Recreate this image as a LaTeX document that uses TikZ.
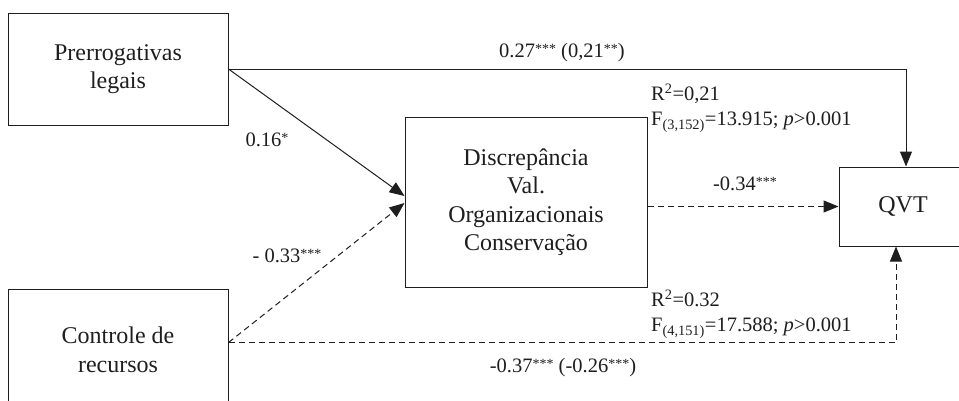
\documentclass[tikz,border=0pt]{standalone}
\usepackage{fontspec}
\setmainfont{Liberation Serif}
\usetikzlibrary{arrows.meta}
\definecolor{ink}{RGB}{30,30,30}
% significance stars, set small and level with the tops of the digits
\newcommand\sigstars[1]{\raisebox{4.2pt}{\fontsize{14}{14}\selectfont #1}}
\begin{document}
\begin{tikzpicture}[x=1pt,y=-1pt,
  varbox/.style={draw=ink,line width=1pt,align=center,text=ink,inner sep=0pt,
    font=\fontsize{24}{28.5}\selectfont},
  coef/.style={text=ink,inner sep=0pt,font=\fontsize{20.5}{25}\selectfont},
  stats/.style={coef,align=left,anchor=west},
  path/.style={draw=ink,line width=1pt,-{Triangle[length=15pt,width=12pt]}},
  neg/.style={path,dash pattern=on 6pt off 4pt}]
\useasboundingbox (0,0) rectangle (959,400);

% latent variables
\node[varbox,minimum width=220pt,minimum height=112pt] (P) at (118,69) {Prerrogativas\\legais};
\node[varbox,minimum width=220pt,minimum height=122pt] (C) at (118,350) {Controle de\\recursos};
\node[varbox,minimum width=242pt,minimum height=170pt] (D) at (526,202) {Discrepância\\Val.\\Organizacionais\\Conservação};
\node[varbox,minimum width=128pt,minimum height=79pt] (Q) at (903,206.5) {QVT};

% direct and mediated paths
\draw[path] (P.east) -| ([xshift=3pt]Q.north);
\draw[path] (P.east) -- ([yshift=6pt]D.west);
\draw[neg] ([yshift=7.5pt]C.east) -- ([yshift=-1pt]D.west);
\draw[neg] (Q.west -| D.east) -- (Q.west);
\draw[neg] ([yshift=7.5pt]C.east) -| ([xshift=-7pt]Q.south);

% path coefficients
\node[coef] (c1) at (562,53) {0.27\sigstars{***} (0,21\sigstars{**})};
\node[coef] (c2) at (267,140) {0.16\sigstars{*}};
\node[coef] (c3) at (287,256) {- 0.33\sigstars{***}};
\node[coef] (c4) at (745,184) {-0.34\sigstars{***}};
\node[coef] (c5) at (563,368) {-0.37\sigstars{***} (-0.26\sigstars{***})};

% model fit
\node[stats] (s1) at (651,108) {R\textsuperscript{2}=0,21\\F\textsubscript{(3,152)}=13.915; \textit{p}>0.001};
\node[stats] (s2) at (651,314) {R\textsuperscript{2}=0.32\\F\textsubscript{(4,151)}=17.588; \textit{p}>0.001};
\end{tikzpicture}
\end{document}
